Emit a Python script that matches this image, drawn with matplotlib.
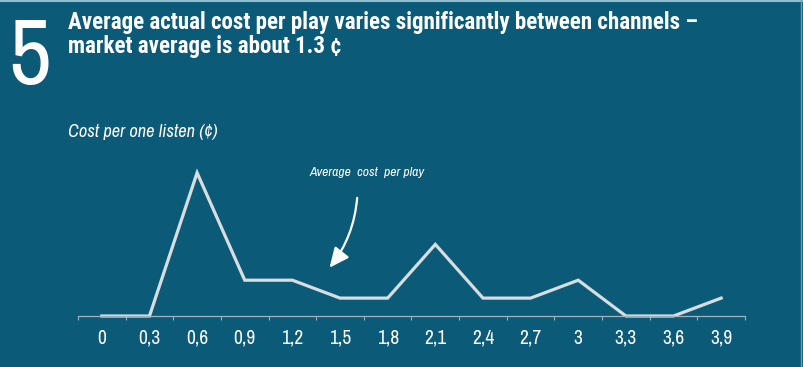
import matplotlib.pyplot as plt
from matplotlib import font_manager
from matplotlib.lines import Line2D

# cost per play buckets (cents) and number of channels in each
cost_labels = ['0', '0,3', '0,6', '0,9', '1,2', '1,5', '1,8', '2,1', '2,4', '2,7', '3', '3,3', '3,6', '3,9']
channels = [0, 0, 8, 2, 2, 1, 1, 4, 1, 1, 2, 0, 0, 1]

title1 = 'Average actual cost per play varies significantly between channels –'
title2 = 'market average is about 1.3 ¢'


def pick(cands, weight=400):
    fl = font_manager.fontManager.ttflist
    for c in cands:
        if any(f.name == c and abs(int(f.weight) - weight) <= 100 for f in fl):
            return c
    return 'Liberation Sans'


reg = pick(['Liberation Sans Narrow', 'Archivo Narrow', 'Roboto Condensed', 'Asap Condensed'])
bold = pick(['Liberation Sans Narrow', 'Archivo Narrow', 'Roboto Condensed', 'Asap Condensed'], 700)
narrow = [reg, 'DejaVu Sans']
narrow_b = [bold, 'DejaVu Sans']

bg = '#0b5a78'
line_col = '#d8dde0'

fig = plt.figure(figsize=(8.04, 3.67), dpi=100, facecolor=bg)
ax = fig.add_axes([78/804, 1-316/367, (745-78)/804, 0.439])
ax.set_facecolor(bg)

x = range(len(cost_labels))
ax.plot(x, channels, color=line_col, lw=2.3, solid_joinstyle='miter', clip_on=False)

ax.set_xlim(-0.5, len(cost_labels)-0.5)
ax.set_ylim(0, 9)
ax.set_xticks(list(x))
ax.set_xticklabels(cost_labels, fontfamily=narrow, fontsize=14, color='white')
ax.set_xticks([i+0.5 for i in range(-1, len(cost_labels))], minor=True)
ax.tick_params(axis='x', which='major', length=0, pad=9)
ax.tick_params(axis='x', which='minor', length=3, color='#9fb3bf', width=0.8)
ax.set_yticks([])
for s in ['top', 'right', 'left']:
    ax.spines[s].set_visible(False)
ax.spines['bottom'].set_color('#9fb3bf')
ax.spines['bottom'].set_linewidth(0.9)

# arrow pointing to the market average
ax.annotate('', xy=(4.78, 2.7), xytext=(5.36, 6.6),
            arrowprops=dict(arrowstyle='-|>,head_length=1.2,head_width=0.55', color='white',
                            lw=1.6, connectionstyle='arc3,rad=-0.15', shrinkA=0, shrinkB=0))
t_avg = ax.text(5.57, 8.0, 'Average  cost  per play', ha='center', va='center', color='white',
                fontsize=9, style='italic', fontfamily=narrow, clip_on=False)

# header
t5 = fig.text(8/804, 1-84/367, '5', color='white', fontsize=80, fontfamily=narrow, va='baseline')
t1 = fig.text(68/804, 1-29/367, title1, color='white', fontsize=15, fontweight='bold',
              fontfamily=narrow_b, va='baseline')
t2 = fig.text(68/804, 1-53/367, title2, color='white', fontsize=15, fontweight='bold',
              fontfamily=narrow_b, va='baseline')
t_sub = fig.text(68/804, 1-137/367, 'Cost per one listen (¢)', color='white', fontsize=11,
                 style='italic', fontfamily=narrow, va='baseline')

# scale font sizes so text widths match the reference
r = fig.canvas.get_renderer()
for t, w, others in [(t1, 632, [t2]), (t_sub, 150, []), (t_avg, 115, [])]:
    s = t.get_fontsize() * w / t.get_window_extent(r).width
    t.set_fontsize(s)
    for o in others:
        o.set_fontsize(s)
s5 = t5.get_fontsize() * 84 / t5.get_window_extent(r).height
t5.set_fontsize(s5)

# thin light frame at top and right edge
fig.add_artist(Line2D([0, 1], [0.998, 0.998], transform=fig.transFigure, color='#8fbdd0', lw=1.5))
fig.add_artist(Line2D([801/804, 801/804], [0, 1], transform=fig.transFigure, color='#6a9fb5', lw=1))

fig.savefig('out.png', dpi=100, facecolor=bg)
